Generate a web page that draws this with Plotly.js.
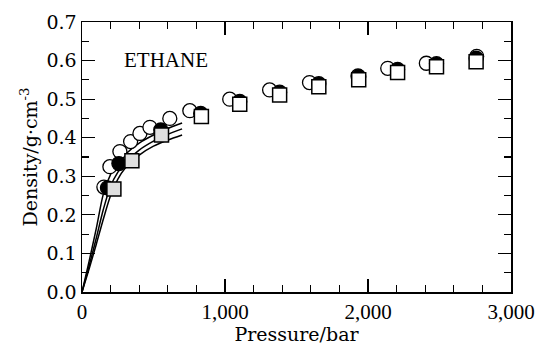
<!DOCTYPE html>
<html>
<head>
<meta charset="utf-8">
<script src="https://cdn.plot.ly/plotly-3.0.1.min.js"></script>
<style>html,body{margin:0;padding:0;background:#fff;}#chart{width:536px;height:345px;}</style>
</head>
<body>
<div id="chart"></div>
<script>
// Open circles
const openP   = [153, 195, 265, 340, 405, 475, 614, 754, 1033, 1312, 1591, 1930, 2138, 2408, 2760];
const openRho = [0.272, 0.325, 0.364, 0.390, 0.411, 0.427, 0.450, 0.470, 0.500, 0.524, 0.543, 0.560, 0.580, 0.593, 0.611];
// Filled circles
const fillP   = [178, 258, 551, 830, 1103, 1382, 1656, 1935, 2207, 2479, 2756];
const fillRho = [0.270, 0.333, 0.420, 0.463, 0.494, 0.518, 0.540, 0.558, 0.577, 0.592, 0.606];
// Squares (first three shaded)
const sqP     = [223, 349, 556, 835, 1103, 1382, 1656, 1935, 2207, 2479, 2756];
const sqRho   = [0.267, 0.340, 0.407, 0.455, 0.487, 0.511, 0.532, 0.550, 0.569, 0.584, 0.597];
const sqShaded = [true, true, true, false, false, false, false, false, false, false, false];
// Model curves
const curveP = [0, 50, 100, 150, 200, 250, 300, 400, 500, 600, 700];
const curveA = [0, 0.080, 0.165, 0.255, 0.305, 0.335, 0.356, 0.386, 0.407, 0.424, 0.438];
const curveB = [0, 0.068, 0.140, 0.215, 0.275, 0.310, 0.335, 0.368, 0.391, 0.409, 0.423];
const curveC = [0, 0.060, 0.124, 0.190, 0.250, 0.292, 0.320, 0.355, 0.378, 0.394, 0.407];
const xTicks = [0, 1000, 2000, 3000];
const xTickText = ["0", "1,000", "2,000", "3,000"];
const yTicks = [0, 0.1, 0.2, 0.3, 0.4, 0.5, 0.6, 0.7];
const yTickText = ["0.0", "0.1", "0.2", "0.3", "0.4", "0.5", "0.6", "0.7"];

const serif = 'Liberation Serif, Times New Roman, serif';
const wide = 'DejaVu Serif, serif';
const lineStyle = {color: '#000', width: 1.5, shape: 'spline', smoothing: 0.8};
const traces = [
  {x: curveP, y: curveA, mode: 'lines', line: lineStyle, hoverinfo: 'skip'},
  {x: curveP, y: curveB, mode: 'lines', line: lineStyle, hoverinfo: 'skip'},
  {x: curveP, y: curveC, mode: 'lines', line: lineStyle, hoverinfo: 'skip'},
  {x: openP, y: openRho, mode: 'markers',
   marker: {symbol: 'circle', size: 14, color: '#fff', line: {color: '#000', width: 1.3}}},
  {x: fillP, y: fillRho, mode: 'markers',
   marker: {symbol: 'circle', size: 14, color: '#000', line: {color: '#000', width: 1.3}}},
  {x: sqP, y: sqRho, mode: 'markers',
   marker: {symbol: 'square', size: 14, color: sqShaded.map(s => s ? '#e0e0e0' : '#fff'),
            line: {color: '#000', width: 1.5}}}
];

const axisCommon = {
  showline: true, linecolor: '#000', linewidth: 1.5, mirror: 'ticks',
  ticks: 'inside', ticklen: 13, tickwidth: 1.2, tickcolor: '#000',
  showgrid: false, zeroline: false, fixedrange: true
};

const layout = {
  width: 536, height: 345,
  margin: {l: 82, r: 25, t: 22, b: 53},
  paper_bgcolor: '#fff', plot_bgcolor: '#fff',
  showlegend: false,
  font: {family: serif, color: '#000'},
  xaxis: Object.assign({}, axisCommon, {
    range: [0, 3000], tickmode: 'array', tickvals: xTicks, ticktext: xTickText,
    tickfont: {family: serif, size: 21, color: '#000'},
    minor: {dtick: 200, ticklen: 7, tickwidth: 1.2, tickcolor: '#000', ticks: 'inside', showgrid: false},
    title: {text: 'Pressure/bar', font: {family: wide, size: 19, color: '#000'}, standoff: 0}
  }),
  yaxis: Object.assign({}, axisCommon, {
    range: [0, 0.7], tickmode: 'array', tickvals: yTicks, ticktext: yTickText,
    tickfont: {family: wide, size: 19, color: '#000'},
    minor: {dtick: 0.05, ticklen: 7, tickwidth: 1.2, tickcolor: '#000', ticks: 'inside', showgrid: false},
    title: {text: 'Density/g·cm<sup>-3</sup>', font: {family: wide, size: 19, color: '#000'}, standoff: 4}
  }),
  annotations: [{
    text: 'ETHANE', xref: 'paper', yref: 'paper', x: 0.196, y: 0.859,
    xanchor: 'center', yanchor: 'middle', showarrow: false,
    font: {family: serif, size: 21, color: '#000'}
  }]
};

Plotly.newPlot('chart', traces, layout, {staticPlot: true, displayModeBar: false});
</script>
</body>
</html>
